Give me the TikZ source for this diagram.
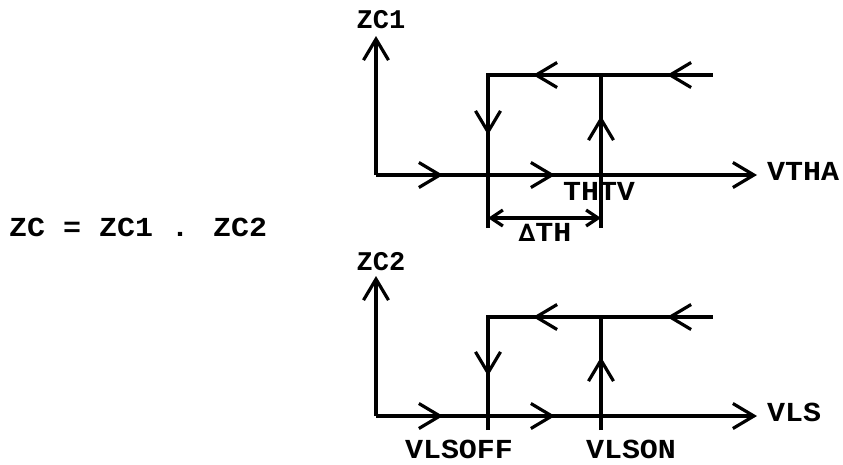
\documentclass[tikz,border=0pt]{standalone}
\usepackage{fontspec}
\usetikzlibrary{arrows.meta}
\newfontfamily\labfont[FakeStretch=1.09]{Liberation Mono}
\newfontfamily\labfontS[FakeStretch=1.0]{Liberation Mono}
\tikzset{
  ln/.style={line width=3.2pt, line join=miter},
  tipv/.style={ln, -{Straight Barb[length=21pt, width=25pt, line width=3.2pt]}},
  lab/.style={font=\labfont\bfseries\fontsize{27.5}{30}\selectfont, inner sep=0pt},
  labs/.style={font=\labfontS\bfseries\fontsize{27}{29}\selectfont, inner sep=0pt},
}
\begin{document}
\begin{tikzpicture}[x=1pt,y=-1pt]
\useasboundingbox (0,0) rectangle (843,464);
% ---------- top diagram ----------
\coordinate (o1) at (376,175);
\coordinate (y1) at (376,36);
\coordinate (x1) at (757,175);
\coordinate (l1t) at (488,75);
\coordinate (l1b) at (488,228);
\coordinate (r1t) at (601,75);
\coordinate (r1b) at (601,228);
\coordinate (t1e) at (713,75);
\coordinate (d1l) at (488,218);
\coordinate (d1r) at (601,218);
\draw[tipv] (o1) -- (y1);
\draw[tipv] (o1) -- (x1);
\draw[ln] (l1b) -- (l1t) -- (t1e);
\draw[ln] (r1b) -- (r1t);
\draw[tipv] (420,175) -- (443,175);
\draw[tipv] (530,175) -- (555,175);
\draw[tipv] (560,75) -- (533,75);
\draw[tipv] (690,75) -- (667,75);
\draw[tipv] (488,110) -- (488,135);
\draw[tipv] (601,140) -- (601,116);
\draw[ln, {Straight Barb[length=12pt, width=16pt, line width=3.2pt]}-{Straight Barb[length=12pt, width=16pt, line width=3.2pt]}] (d1l) -- (d1r);
\node[labs] (zc1) at (381,20) {ZC1};
\node[lab, anchor=west] (vtha) at (767,171) {VTHA};
\node[lab] (thtv) at (599,191) {THTV};
\node[lab] (dth) at (545,232) {{\fontspec{DejaVu Sans}\bfseries\fontsize{24}{26}\selectfont\char"2206}TH};
% ---------- bottom diagram ----------
\coordinate (o2) at (376,416);
\coordinate (y2) at (376,276);
\coordinate (x2) at (757,416);
\coordinate (l2t) at (488,317);
\coordinate (l2b) at (488,430);
\coordinate (r2t) at (601,317);
\coordinate (r2b) at (601,430);
\coordinate (t2e) at (713,317);
\draw[tipv] (o2) -- (y2);
\draw[tipv] (o2) -- (x2);
\draw[ln] (l2b) -- (l2t) -- (t2e);
\draw[ln] (r2b) -- (r2t);
\draw[tipv] (420,416) -- (443,416);
\draw[tipv] (530,416) -- (555,416);
\draw[tipv] (560,317) -- (533,317);
\draw[tipv] (690,317) -- (667,317);
\draw[tipv] (488,351) -- (488,376);
\draw[tipv] (601,381) -- (601,357);
\node[labs] (zc2) at (381,262) {ZC2};
\node[lab, anchor=west] (vls) at (767,412) {VLS};
\node[lab] (vlsoff) at (459,449) {VLSOFF};
\node[lab] (vlson) at (631,449) {VLSON};
% ---------- formula ----------
\node[lab, anchor=west] (zc) at (9,227) {ZC = ZC1 . ZC2};
\end{tikzpicture}
\end{document}
